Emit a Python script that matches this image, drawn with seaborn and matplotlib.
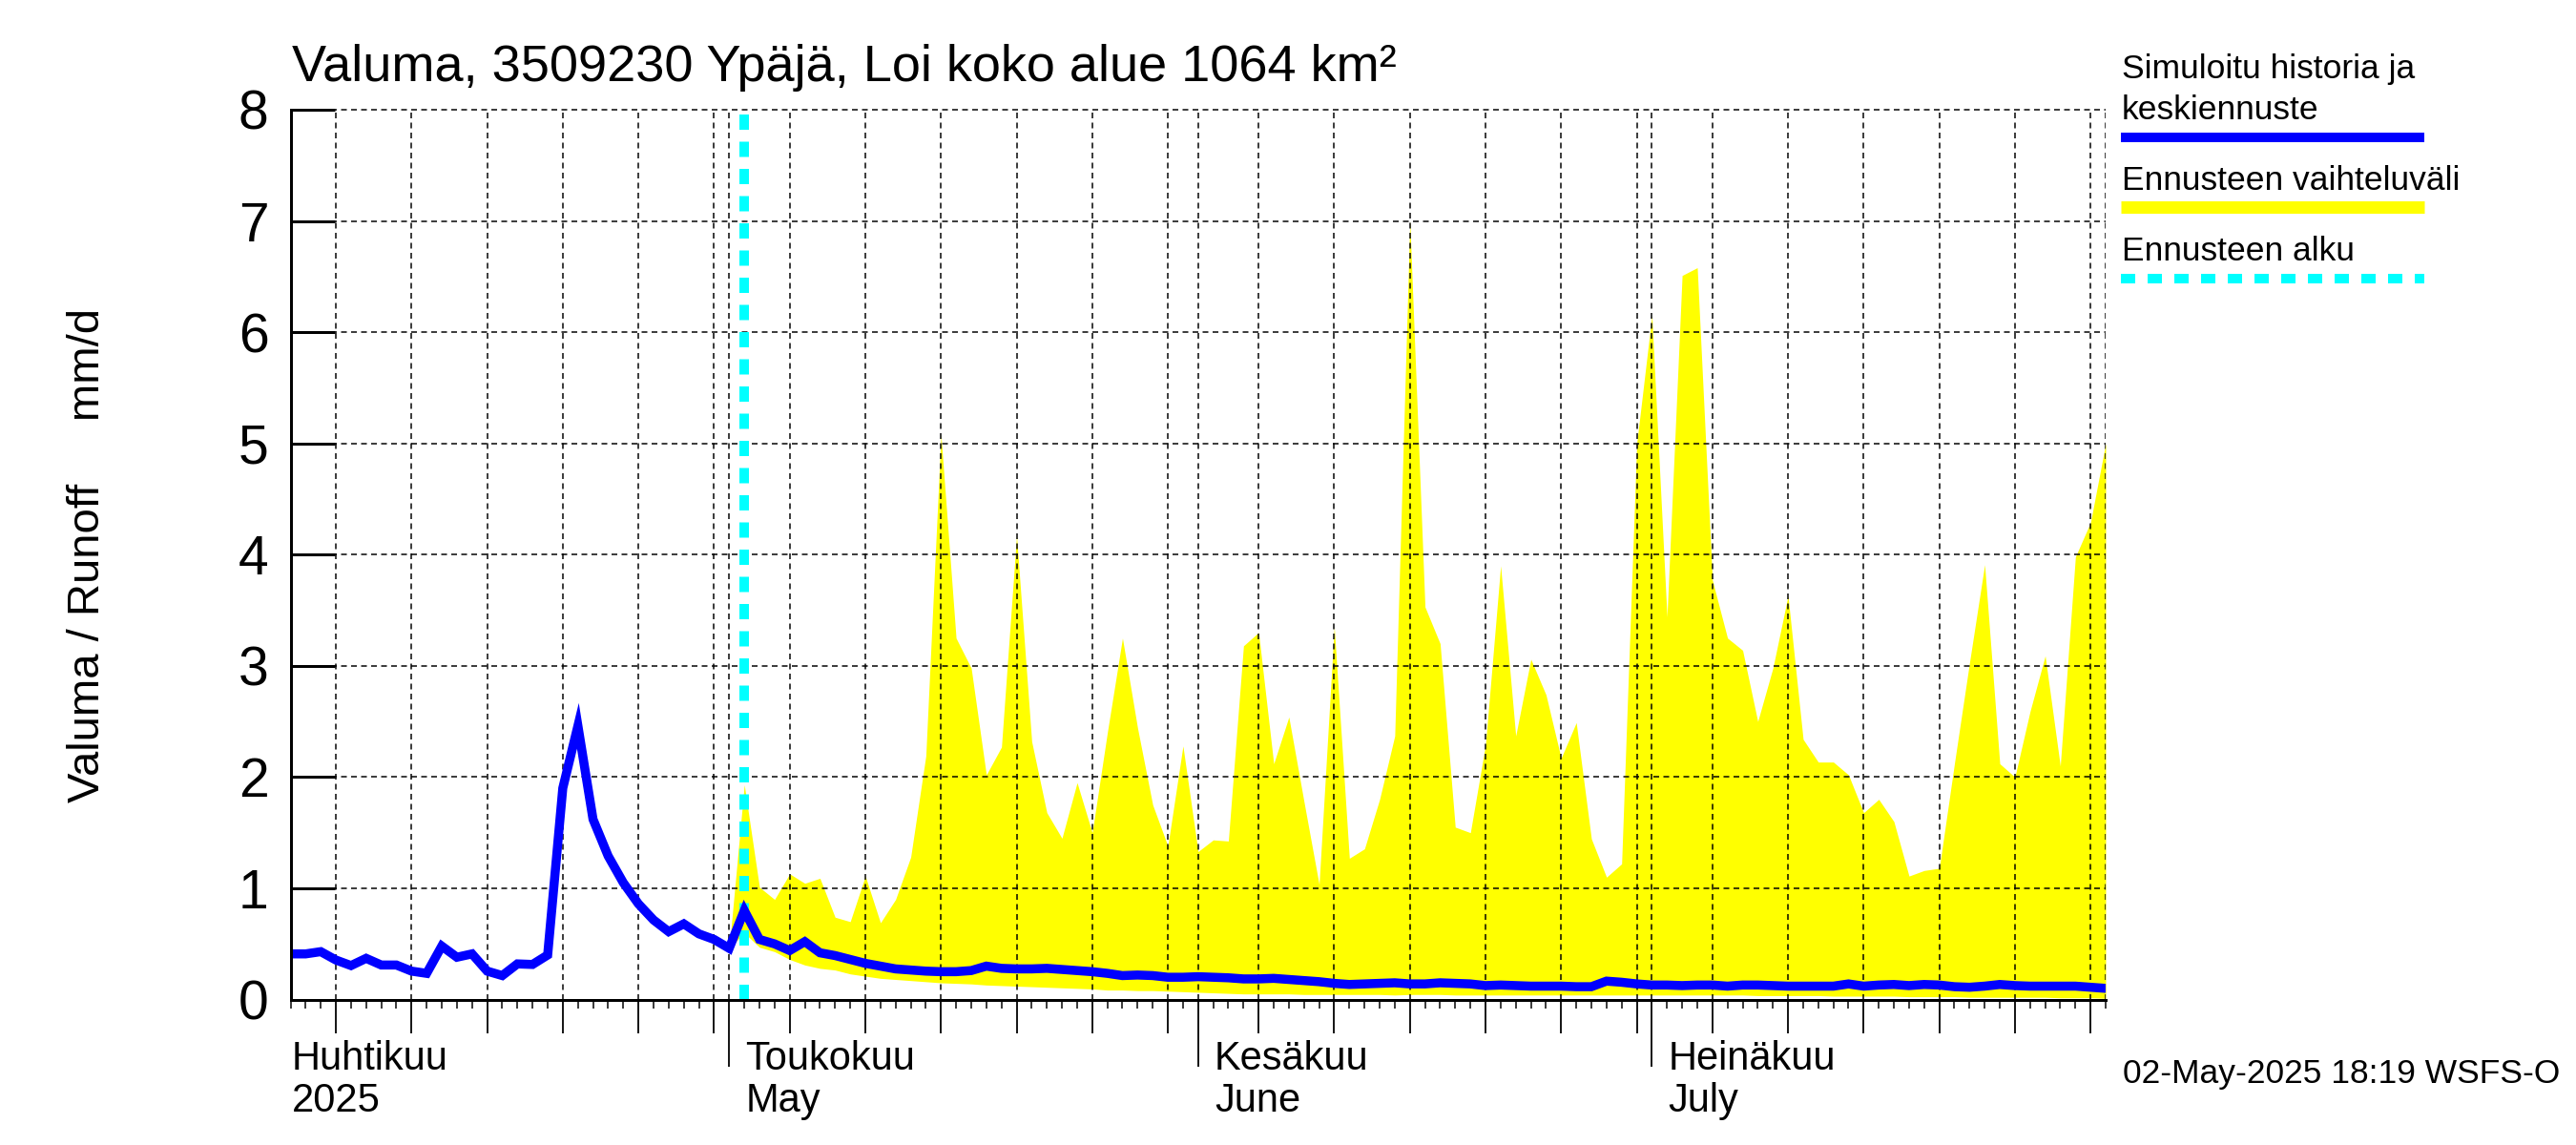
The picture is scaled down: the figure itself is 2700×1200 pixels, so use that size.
import matplotlib
matplotlib.use("Agg")
import numpy as np
import pandas as pd
import seaborn as sns
import matplotlib.pyplot as plt
import matplotlib.dates as mdates
from matplotlib.lines import Line2D

# ---------- data ----------
history_forecast = [
 .41,.41,.43,.355,.305,.37,.31,.31,.255,.235,.48,.38,.41,.255,.215,.32,.315,.40,1.9,2.46,
 1.62,1.29,1.05,.86,.715,.61,.68,.59,.54,.46,                      # to May 1
 .80,.54,.50,.44,.52,.42,.395,.36,.325,.30,.275,.265,.255,.25,.25,.26,.30,.28,.275,.275,.28,
 .27,.26,.25,.235,.215,.22,.215,.20,.20,                            # to May 31
 .205,.20,.195,.185,.185,.19,.18,.17,.16,.145,.135,.14,.145,.15,.14,.14,.15,.145,.14,.125,
 .13,.125,.12,.12,.12,.115,.115,.165,.155,.14,                      # to Jun 30
 .13,.13,.125,.13,.13,.12,.13,.13,.125,.12,.12,.12,.12,.14,.12,.13,.135,.125,.135,.13,
 .115,.11,.12,.135,.125,.12,.12,.12,.12,.11,.10]
range_upper = [
 .46,1.93,1.01,.90,1.13,1.045,1.09,.74,.70,1.11,.69,.90,1.28,2.19,5.08,3.25,2.98,2.02,2.27,4.17,
 2.32,1.68,1.45,1.95,1.50,2.40,3.25,2.44,1.75,1.38,2.28,           # May
 1.33,1.435,1.425,3.18,3.30,2.12,2.54,1.78,1.035,3.35,1.27,1.355,1.80,2.37,7.0,3.53,3.20,1.55,1.50,2.29,
 3.90,2.37,3.06,2.74,2.17,2.49,1.445,1.10,1.22,5.0,                 # June
 6.15,3.44,6.51,6.58,3.77,3.25,3.14,2.50,2.98,3.63,2.34,2.135,2.135,2.02,1.68,1.80,1.60,1.11,1.16,1.18,
 2.12,3.03,3.91,2.12,2.0,2.59,3.09,2.10,3.98,4.29,5.0]
range_lower = [
 .46,.60,.47,.43,.36,.31,.28,.265,.23,.21,.19,.18,.17,.16,.15,.145,.14,.13,.125,.12,
 .115,.11,.105,.10,.095,.085,.085,.08,.08,.075,.07,                 # May
 .065,.06,.055,.05,.05,.05,.05,.045,.045,.045,.045,.045,.045,.04,.045,.045,.045,.04,.04,.04,
 .04,.04,.04,.04,.04,.04,.04,.04,.04,.04,                           # June
 .04,.04,.04,.04,.04,.04,.04,.035,.035,.035,.035,.035,.03,.03,.03,.03,.03,.025,.025,.025,
 .025,.02,.02,.02,.02,.02,.02,.015,.015,.015,.01]
start_date = "2025-04-02"
range_start = "2025-05-01"
forecast_start = "2025-05-02"
end_date = "2025-07-31"
y_ticks = [0, 1, 2, 3, 4, 5, 6, 7, 8]
month_labels = [("2025-04-02", "Huhtikuu", "2025"), ("2025-05-02", "Toukokuu", "May"),
                ("2025-06-02", "Kesäkuu", "June"), ("2025-07-02", "Heinäkuu", "July")]
month_starts = ["2025-05-01", "2025-06-01", "2025-07-01"]
five_days = [f"2025-{m:02d}-{d:02d}" for m in (4, 5, 6, 7) for d in (5, 10, 15, 20, 25, 30)]
title = "Valuma, 3509230 Ypäjä, Loi koko alue 1064 km²"
ylabel = "Valuma / Runoff     mm/d"
footer = "02-May-2025 18:19 WSFS-O"
legend_items = ["Simuloitu historia ja\nkeskiennuste", "Ennusteen vaihteluväli", "Ennusteen alku"]

# ---------- style ----------
W, H = 2700, 1200
PX = 72 / 100
sns.set_theme(style="white")
plt.rcParams["font.family"] = ["Liberation Sans", "DejaVu Sans"]
BLUE, YELLOW, CYAN = "#0000ff", "#ffff00", "#00ffff"

fig = plt.figure(figsize=(27, 12), dpi=100, facecolor="white")
L, R, T, B = 304.5, 2207, 115, 1047.5
ax = fig.add_axes([L / W, 1 - B / H, (R - L) / W, (B - T) / H])

dates = pd.date_range(start_date, end_date)
hist = pd.DataFrame({"date": dates, "value": history_forecast})
band = pd.DataFrame({"date": pd.date_range(range_start, end_date), "upper": range_upper, "lower": range_lower})

ax.fill_between(band["date"], band["lower"], band["upper"], color=YELLOW, lw=0, zorder=2)
ax.axvline(pd.Timestamp(forecast_start), color=CYAN, lw=10 * PX, ls=(0, (1.6, 1.25)), zorder=3)
sns.lineplot(data=hist, x="date", y="value", ax=ax, color=BLUE, lw=9.5 * PX, zorder=4,
             legend=False, errorbar=None, solid_joinstyle="miter")

ax.set_xlim(pd.Timestamp(start_date), pd.Timestamp(end_date))
ax.set_ylim(0, 8)
ax.set_xlabel("")
ax.set_ylabel("")
for s in ("top", "right"):
    ax.spines[s].set_visible(False)
for s in ("left", "bottom"):
    ax.spines[s].set_linewidth(3 * PX)
    ax.spines[s].set_color("black")
    ax.spines[s].set_zorder(5)

# grid
grid_kw = dict(color="black", lw=1.5 * PX, ls=(0, (4, 3)), zorder=2.5)
for y in y_ticks[1:]:
    ax.axhline(y, **grid_kw, clip_on=False)
grid_dates = sorted(five_days + month_starts + [end_date])
for d in grid_dates:
    ax.axvline(pd.Timestamp(d), **grid_kw)

# ticks
major = [pd.Timestamp(d) for d in sorted(five_days + month_starts)]
ax.set_xticks(major)
ax.set_xticks(dates, minor=True)
ax.set_xticklabels([])
ax.tick_params(axis="x", which="major", bottom=True, direction="out", length=35 * PX, width=1.8 * PX, color="black")
ax.tick_params(axis="x", which="minor", bottom=True, direction="out", length=9 * PX, width=1.5 * PX, color="black")
month_ts = {pd.Timestamp(d) for d in month_starts}
for tick, pos in zip(ax.xaxis.get_major_ticks(), major):
    if pos in month_ts:
        tick.tick1line.set_markersize(70 * PX)
ax.set_yticks(y_ticks)
ax.set_yticklabels([str(v) for v in y_ticks])
ax.tick_params(axis="y", left=True, direction="in", length=46 * PX, width=3 * PX, color="black",
               labelsize=41, pad=23 * PX, labelcolor="black")
for t in ax.yaxis.get_major_ticks():
    t.tick1line.set_clip_on(False)

# month labels
trans = mdates.date2num
xt = ax.get_xaxis_transform()
for d, a, b in month_labels:
    px = ax.transData.transform((mdates.date2num(pd.Timestamp(d)), 0))[0] / W + 1.5 / W
    fig.text(px, 1 - 1121 / H, a, fontsize=30, color="black", va="baseline", ha="left")
    fig.text(px, 1 - 1165 / H, b, fontsize=30, color="black", va="baseline", ha="left")

fig.text(306 / W, 1 - 85 / H, title, fontsize=39, color="black", va="baseline", ha="left")
fig.text(92 / W, 1 - 582 / H, ylabel, fontsize=34, color="black", rotation=90, va="center", ha="center")
fig.text(2225 / W, 1 - 1135 / H, footer, fontsize=25.5, color="black", va="baseline", ha="left")

# legend
lx0, lx1 = 2223, 2541
def leg_line(y, color, lw, **kw):
    fig.add_artist(Line2D([lx0 / W, lx1 / W], [1 - y / H, 1 - y / H], color=color, lw=lw * PX,
                          solid_capstyle="butt", dash_capstyle="butt", **kw))
fig.text(2224 / W, 1 - 82 / H, legend_items[0].split("\n")[0], fontsize=25.5, color="black", va="baseline")
fig.text(2224 / W, 1 - 125 / H, legend_items[0].split("\n")[1], fontsize=25.5, color="black", va="baseline")
leg_line(144, BLUE, 10)
fig.text(2224 / W, 1 - 199 / H, legend_items[1], fontsize=25.5, color="black", va="baseline")
leg_line(217, YELLOW, 13)
fig.text(2224 / W, 1 - 273 / H, legend_items[2], fontsize=25.5, color="black", va="baseline")
leg_line(292, CYAN, 10, ls=(0, (1.5, 1.3)))

fig.savefig("out.png", dpi=100, facecolor="white")
